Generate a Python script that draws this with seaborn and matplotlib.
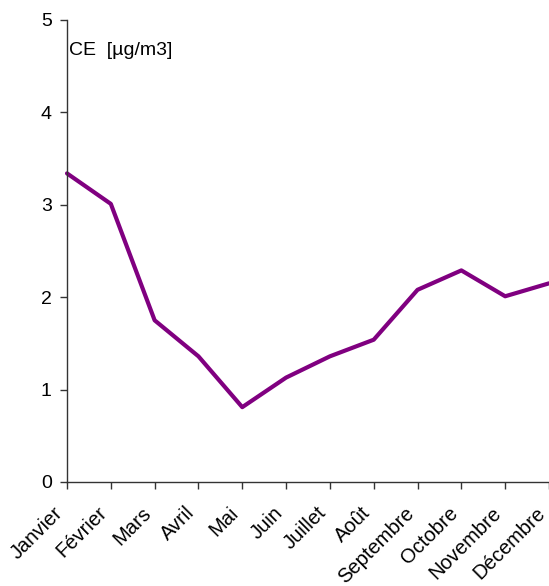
import pandas as pd
import matplotlib.pyplot as plt
import seaborn as sns

mois = ["Janvier", "Février", "Mars", "Avril", "Mai", "Juin", "Juillet",
        "Août", "Septembre", "Octobre", "Novembre", "Décembre"]
ce = [3.34, 3.01, 1.75, 1.36, 0.81, 1.13, 1.36, 1.54, 2.08, 2.29, 2.01, 2.15]


def main():
    sns.set_style("ticks")
    plt.rcParams['font.family'] = ['Liberation Sans', 'DejaVu Sans']

    df = pd.DataFrame({"idx": range(len(mois)), "ce": ce})

    fig = plt.figure(figsize=(5.49, 5.86), dpi=100)
    ax = fig.add_axes([67 / 549, 1 - 482 / 586, 482 / 549, 462 / 586])

    sns.lineplot(data=df, x="idx", y="ce", color="#800080", linewidth=3,
                 ax=ax, clip_on=False)

    ax.set_xlim(0, 11)
    ax.set_ylim(0, 5)
    ax.set_yticks([0, 1, 2, 3, 4, 5])
    ax.set_xticks(range(len(mois)))
    ax.set_xticklabels(mois, rotation=45, ha="right", va="bottom",
                       rotation_mode="anchor", fontsize=14.5, color="black")
    ax.tick_params(axis="y", labelsize=14, labelcolor="black", length=5,
                   width=1, color="#333333", pad=6)
    ax.tick_params(axis="x", length=5, width=1, color="#333333", pad=20)
    ax.set_xlabel("")
    ax.set_ylabel("")
    for s in ["top", "right"]:
        ax.spines[s].set_visible(False)
    for s in ["left", "bottom"]:
        ax.spines[s].set_color("#333333")
        ax.spines[s].set_linewidth(1)

    ax.text(0.005, 0.935, "CE  [µg/m3]", transform=ax.transAxes,
            fontsize=14, ha="left", va="center", color="black")

    fig.savefig("out.png", dpi=100)


if __name__ == "__main__":
    main()
